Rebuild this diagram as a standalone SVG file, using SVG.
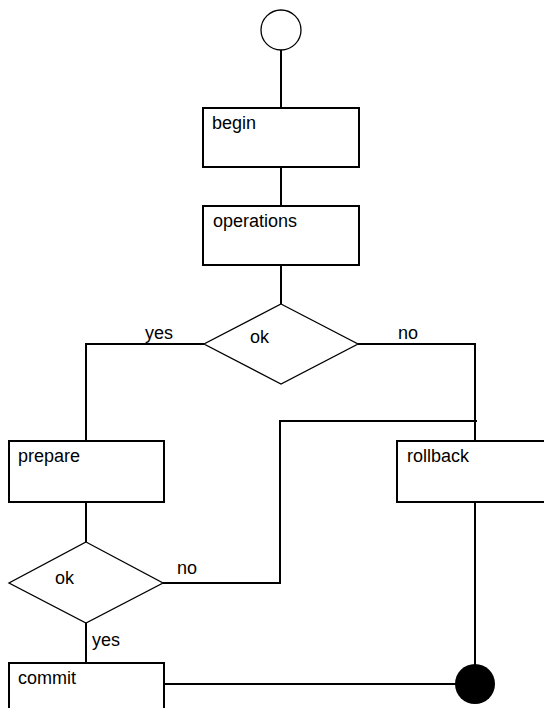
<svg xmlns="http://www.w3.org/2000/svg" width="544" height="708" viewBox="0 0 544 708">
<style>
.box{fill:#fff;stroke:#000;stroke-width:2}
.dia{fill:#fff;stroke:#000;stroke-width:1.3}
.ln{fill:none;stroke:#000;stroke-width:2}
text{font-family:"Liberation Sans",Arial,sans-serif;font-size:18px;fill:#000}
</style>
<rect width="544" height="708" fill="#fff"/>
<g id="connectors">
<path class="ln" d="M281,50V108"/>
<path class="ln" d="M281,167V206"/>
<path class="ln" d="M281,265V304"/>
<path class="ln" d="M204,344H86V441"/>
<path class="ln" d="M358,344H475V441"/>
<path class="ln" d="M86,502V542"/>
<path class="ln" d="M163,583H280V421H477"/>
<path class="ln" d="M86,623V663"/>
<path class="ln" d="M164,684H456"/>
<path class="ln" d="M475,502V665"/>
<text x="145" y="339">yes</text>
<text x="398" y="339">no</text>
<text x="177" y="574">no</text>
<text x="92" y="646">yes</text>
</g>
<g id="start"><circle cx="281" cy="30" r="20" fill="#fff" stroke="#000" stroke-width="1.3"/></g>
<g id="begin"><rect class="box" x="203" y="108" width="156" height="59"/><text x="212" y="129">begin</text></g>
<g id="operations"><rect class="box" x="203" y="206" width="156" height="59"/><text x="213" y="227">operations</text></g>
<g id="decision1"><polygon class="dia" points="281,304 358,344 281,384 204,344"/><text x="250" y="343">ok</text></g>
<g id="prepare"><rect class="box" x="9" y="441" width="155" height="61"/><text x="18" y="462">prepare</text></g>
<g id="rollback"><rect class="box" x="397" y="441" width="160" height="61"/><text x="407" y="462">rollback</text></g>
<g id="decision2"><polygon class="dia" points="86,542 163,583 86,623 9,583"/><text x="55" y="584">ok</text></g>
<g id="commit"><rect class="box" x="9" y="663" width="155" height="61"/><text x="18" y="684">commit</text></g>
<g id="end"><circle cx="475" cy="684" r="20" fill="#000"/></g>
</svg>
